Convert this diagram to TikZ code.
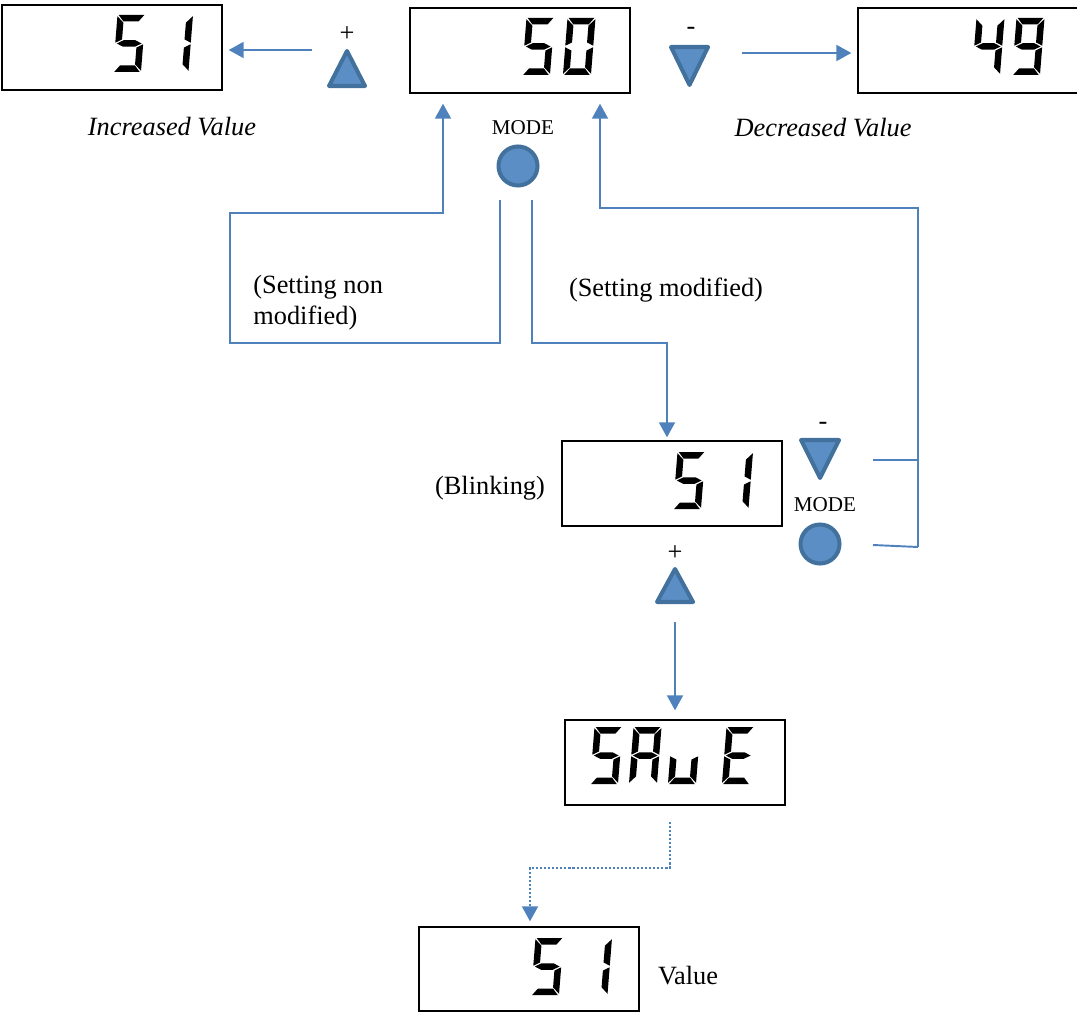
\documentclass[tikz,border=0pt]{standalone}
\usepackage{fontspec}
\setmainfont{Liberation Serif}
\usetikzlibrary{arrows.meta}
\definecolor{wire}{RGB}{79,129,189}
\definecolor{keyfill}{RGB}{92,142,198}
\definecolor{keyedge}{RGB}{65,113,156}

% seven-segment pieces, local units with y pointing down (cell 28 x 57)
\newcommand\lcdsegA{\fill (1.2,0)--(26.8,0)--(21.5,6.5)--(6.5,6.5)--cycle;}
\newcommand\lcdsegD{\fill (1.2,57)--(26.8,57)--(21.5,50.5)--(6.5,50.5)--cycle;}
\newcommand\lcdsegF{\fill (0,1.2)--(6.5,7.7)--(6.5,24.45)--(0,27.7)--cycle;}
\newcommand\lcdsegE{\fill (0,29.3)--(6.5,32.55)--(6.5,49.3)--(0,55.8)--cycle;}
\newcommand\lcdsegB{\fill (28,1.2)--(21.5,7.7)--(21.5,24.45)--(28,27.7)--cycle;}
\newcommand\lcdsegC{\fill (28,29.3)--(21.5,32.55)--(21.5,49.3)--(28,55.8)--cycle;}
\newcommand\lcdsegG{\fill (1.6,28.5)--(8.1,25.25)--(19.9,25.25)--(26.4,28.5)--(19.9,31.75)--(8.1,31.75)--cycle;}
\newcommand\lcdchar[3]{%
  \begin{scope}[shift={(#1,#2)},xslant=0.08]
    \foreach \s in {#3}{\csname lcdseg\s\endcsname}
  \end{scope}}

\begin{document}
\begin{tikzpicture}[x=0.02cm,y=-0.02cm,
  lcd/.style={draw=black,line width=0.8pt,minimum width=4.4cm,minimum height=1.7cm,inner sep=0pt},
  wireline/.style={draw=wire,line width=1.1pt},
  arr/.style={wireline,-{Triangle[length=0.3cm,width=0.32cm]}},
  dots/.style={dash pattern=on 1.2pt off 1.1pt},
  key/.style={fill=keyfill,draw=keyedge,line width=2.3pt,line join=round},
  lbl/.style={font=\fontsize{15}{18}\selectfont,inner sep=0pt},
  small/.style={font=\fontsize{12}{14}\selectfont,inner sep=0pt}]
\useasboundingbox (0,0) rectangle (1077,1013);
\clip (0,0) rectangle (1077,1013);

% displays
\node[lcd] (boxA) at (112,47.5) {};
\node[lcd] (boxB) at (520,50.5) {};
\node[lcd] (boxC) at (968,50.5) {};
\node[lcd] (boxD) at (672,483.5) {};
\node[lcd] (boxE) at (675,762.5) {};
\node[lcd,minimum height=1.68cm] (boxF) at (529,969) {};

% display contents
\lcdchar{117.5}{15}{A,C,D,F,G}
\lcdchar{165}{15}{B,C}
\lcdchar{526.5}{18}{A,C,D,F,G}
\lcdchar{567.5}{18}{A,B,C,D,E,F}
\lcdchar{976.5}{18}{B,C,F,G}
\lcdchar{1016.5}{18}{A,B,C,D,F,G}
\lcdchar{677.5}{452}{A,C,D,F,G}
\lcdchar{725}{452}{B,C}
\lcdchar{594.5}{727}{A,C,D,F,G}
\lcdchar{633.5}{727}{A,B,C,E,F,G}
\lcdchar{672.5}{727}{C,D,E}
\lcdchar{726.5}{727}{A,D,E,F,G}
\lcdchar{535.5}{938}{A,C,D,F,G}
\lcdchar{584}{938}{B,C}

% keys
\draw[key] (347,51) -- (365,86) -- (329,86) -- cycle;
\draw[key] (671,47) -- (708,47) -- (689.5,85) -- cycle;
\draw[key] (518,166) circle[radius=0.39cm];
\draw[key] (801,440) -- (839,440) -- (820,478) -- cycle;
\draw[key] (820,544) circle[radius=0.39cm];
\draw[key] (675,569) -- (693,602) -- (657,602) -- cycle;

% labels
\node[lbl] (plusA) at (347,34) {+};
\node[lbl] (minusC) at (691,31) {-};
\node[lbl] (incL) at (172,127) {\itshape Increased Value};
\node[lbl] (decL) at (823,128) {\itshape Decreased Value};
\node[small] (modeA) at (523,128) {MODE};
\node[lbl,align=left,anchor=west] (nonmod) at (253,302.5) {(Setting non\\modified)};
\node[lbl] (modif) at (666,290) {(Setting modified)};
\node[lbl] (blink) at (490,488) {(Blinking)};
\node[lbl] (minusD) at (823,426) {-};
\node[small] (modeD) at (825,505) {MODE};
\node[lbl] (plusD) at (675,553) {+};
\node[lbl] (valL) at (688,976) {Value};

% connectors
\coordinate (incFrom) at (312,50);
\draw[arr,shorten >=0.12cm] (incFrom) -- (incFrom -| boxA.east);
\coordinate (decFrom) at (742,53);
\draw[arr,shorten >=0.12cm] (decFrom) -- (decFrom -| boxC.west);

\coordinate (nmA) at (500,200);
\coordinate (nmB) at (230,343);
\coordinate (nmC) at (230,213);
\coordinate (nmD) at (443,213);
\draw[arr,shorten >=0.2cm] (nmA) |- (nmB) -- (nmC) -- (nmD) -- (nmD |- boxB.south);

\coordinate (mA) at (532,200);
\coordinate (mB) at (667,343);
\draw[arr,shorten >=0.06cm] (mA) |- (mB) -- (mB |- boxD.north);

\coordinate (dnOut) at (873,460);
\coordinate (mdOut) at (873,545);
\coordinate (bus1) at (918,460);
\coordinate (bus2) at (918,547);
\coordinate (busTop) at (918,208);
\coordinate (retB) at (600,208);
\draw[wireline] (dnOut) -- (bus1);
\draw[wireline] (mdOut) -- (bus2);
\draw[arr,shorten >=0.2cm] (bus2) -- (busTop) -- (retB) -- (retB |- boxB.south);

\coordinate (upFrom) at (675,622);
\draw[arr,shorten >=0.18cm] (upFrom) -- (upFrom |- boxE.north);

\coordinate (sv) at (670,822);
\coordinate (svB) at (530,868);
\draw[arr,dots,shorten >=0.1cm] (sv) |- (svB) -- (svB |- boxF.north);
\end{tikzpicture}
\end{document}
